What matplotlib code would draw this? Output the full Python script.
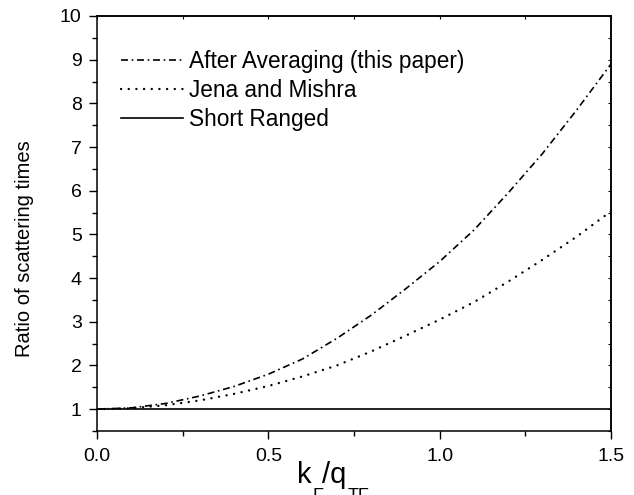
import matplotlib
matplotlib.use("Agg")
import matplotlib.pyplot as plt

plt.rcParams['font.family'] = ['Liberation Sans', 'DejaVu Sans']

x = [0.0, 0.1, 0.2, 0.3, 0.4, 0.5, 0.6, 0.7, 0.8, 0.9, 1.0, 1.1, 1.2, 1.3, 1.4, 1.5]
after_averaging = [1.0, 1.03, 1.13, 1.30, 1.52, 1.80, 2.15, 2.62, 3.15, 3.75, 4.38, 5.10, 5.95, 6.85, 7.85, 8.90]
jena_mishra = [1.0, 1.02, 1.09, 1.20, 1.35, 1.53, 1.75, 2.00, 2.32, 2.68, 3.05, 3.45, 3.92, 4.42, 4.95, 5.53]
short_ranged = [1.0] * len(x)
labels = ["After Averaging (this paper)", "Jena and Mishra", "Short Ranged"]
xticks = [0.0, 0.5, 1.0, 1.5]
yticks = [1, 2, 3, 4, 5, 6, 7, 8, 9, 10]

W, H = 634, 495
fig = plt.figure(figsize=(W / 100, H / 100), dpi=100)
ax = fig.add_axes([97/W, 1-431/H, (611-97)/W, (431-16)/H])

ax.plot(x, after_averaging, color='black', lw=1.2, linestyle=(0, (4.2, 2.2, 1.0, 2.2)), label=labels[0])
ax.plot(x, jena_mishra, color='black', lw=1.7, linestyle=(0, (0.05, 3.2)), dash_capstyle='round', label=labels[1])
ax.plot(x, short_ranged, color='black', lw=1.2, label=labels[2])

ax.set_xlim(0, 1.5)
ax.set_ylim(0.5, 10)
ax.set_xticks(xticks)
ax.set_xticklabels([f"{v:.1f}" for v in xticks])
ax.set_xticks([0.25, 0.75, 1.25], minor=True)
ax.set_yticks(yticks)
ax.set_yticks([0.5 + i for i in range(10)], minor=True)
ax.tick_params(which='major', direction='out', length=6, width=1.0, labelsize=14, colors='black')
ax.tick_params(which='minor', direction='out', length=3.5, width=1.0)
ax.tick_params(axis='x', which='major', pad=6)
ax.tick_params(axis='y', which='major', pad=5)
for s in ax.spines.values():
    s.set_linewidth(1.1)

top = ax.secondary_xaxis('top')
top.set_xticks(xticks + [0.25, 0.75, 1.25])
top.tick_params(direction='in', length=2.5, width=0.8, labeltop=False)
top.spines['top'].set_linewidth(1.1)
right = ax.secondary_yaxis('right')
right.set_yticks([0.5 + 0.5 * i for i in range(20)])
right.tick_params(direction='in', length=2.5, width=0.8, labelright=False)
right.spines['right'].set_linewidth(1.1)

# y label
fig.text(15/W, 1-249/H, "Ratio of scattering times", rotation=90, ha='left', va='center', fontsize=14.5)

# x label k_F/q_TF built from pieces with low subscripts
renderer = fig.canvas.get_renderer()
xpos = 297
base_main = 1 - 483/H
base_sub = 1 - 501/H
pieces = [("k", 21, base_main, 0), ("F", 13, base_sub, 1), ("/q", 21, base_main, -2), ("TF", 13, base_sub, 2)]
for txt, fs, yb, gap in pieces:
    xpos += gap
    t = fig.text(xpos/W, yb, txt, fontsize=fs, ha='left', va='baseline')
    bb = t.get_window_extent(renderer=renderer)
    xpos += bb.width

leg = ax.legend(loc='upper left', bbox_to_anchor=(0.03, 0.94), frameon=False, fontsize=16.3,
                handlelength=2.7, handletextpad=0.3, labelspacing=0.27, borderaxespad=0)

fig.savefig("out.png", dpi=100)
